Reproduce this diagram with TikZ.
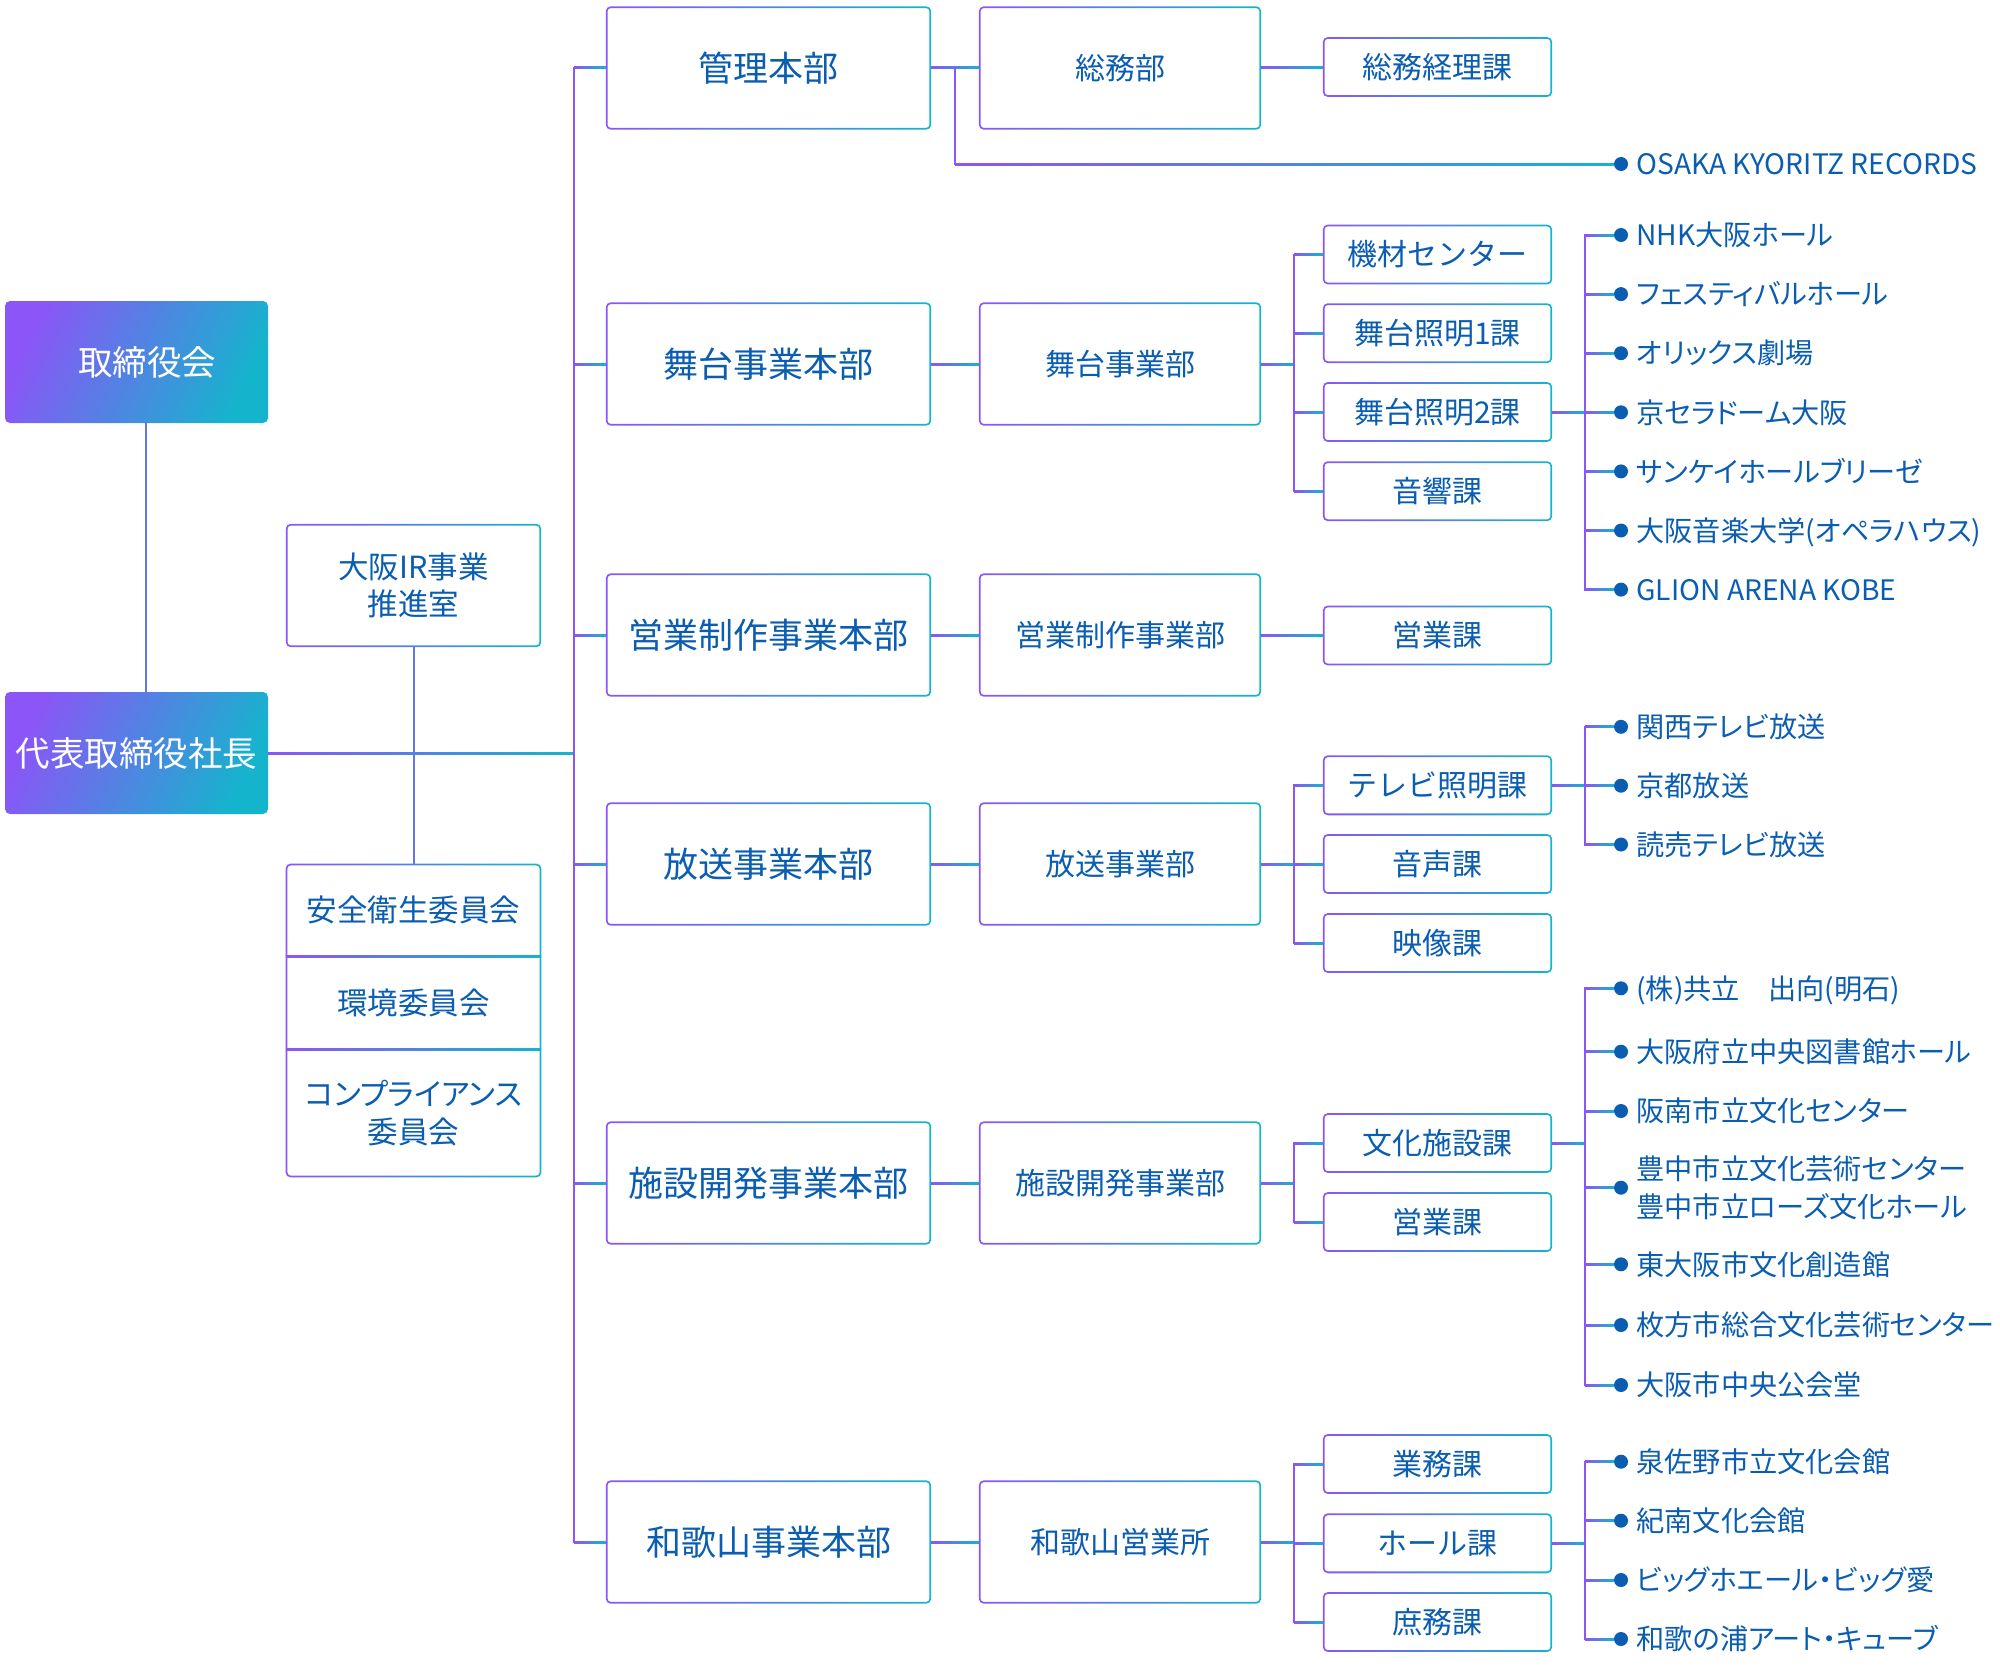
\documentclass[tikz,border=0pt]{standalone}
\usepackage{fontspec}
\setmainfont{Noto Sans CJK JP}
\newfontfamily\pfont[RawFeature=+palt]{Noto Sans CJK JP}
\usetikzlibrary{calc,fit}
\definecolor{gp}{HTML}{8B55F7}
\definecolor{gc}{HTML}{15B4CD}
\definecolor{gt}{HTML}{0A5DB0}
\newcommand\gframe[1]{%
  \shade[left color=gp,right color=gc,even odd rule,rounded corners=5pt]
    (#1.south west) rectangle (#1.north east)
    [rounded corners=3.2pt]
    ([shift={(1.8pt,1.8pt)}]#1.south west) rectangle ([shift={(-1.8pt,-1.8pt)}]#1.north east);}
\newcommand\hcon[2]{%
  \shade[left color=gp,right color=gc] ($(#1)+(0pt,-1pt)$) rectangle ($(#2)+(0pt,1pt)$);}
\tikzset{
  base/.style={text=gt, inner sep=0pt, align=center},
  honbu/.style={base, text height=30.8pt, text depth=4.2pt, minimum width=325pt, minimum height=123pt, font=\fontsize{35}{40}\selectfont},
  bubox/.style={base, text height=26.4pt, text depth=3.6pt, minimum width=282pt, minimum height=123pt, font=\fontsize{30}{36}\selectfont},
  kabox/.style={base, text height=26.4pt, text depth=3.6pt, minimum width=229pt, minimum height=59.5pt, font=\fontsize{30}{36}\selectfont},
  sidebox/.style={base, minimum width=255pt, font=\fontsize{30.5}{36.5}\selectfont},
  sideone/.style={text height=26.84pt, text depth=3.66pt},
  topbox/.style={inner sep=0pt, text height=30.36pt, text depth=4.14pt, text=white, minimum width=263pt, minimum height=122pt,
    rounded corners=5pt, font=\fontsize{34.5}{40}\selectfont, left color=gp, right color=gc, shading angle=65},
  vl/.style={draw=gp, line width=2pt, line cap=rect},
  vm/.style={draw=gp!65!gc, line width=2pt, line cap=rect},
  dot/.style={circle, fill=gt, minimum size=14pt, inner sep=0pt},
  li/.style={anchor=west, text=gt, inner sep=0pt, font=\pfont\fontsize{28.2}{37.5}\selectfont},
  lione/.style={text height=24.82pt, text depth=3.38pt},
}
\begin{document}
\begin{tikzpicture}[x=1pt,y=-1pt]
\useasboundingbox (0,0) rectangle (2000,1670);
\coordinate (T) at (574,0);
\coordinate (K) at (955,0);
\coordinate (B) at (1294,0);
\coordinate (L) at (1585,0);

% left column
\node[topbox] (tori) at (136.5,362) {\hspace*{21pt}取締役会};
\node[topbox] (daihyo) at (136.5,753) {代表取締役社長};

% side column
\node[sidebox, minimum height=123pt] (ir) at (413.5,585.5) {大阪IR事業\\推進室};
\node[sidebox, sideone, minimum height=92.4pt] (anzen) at (413.5,910.2) {安全衛生委員会};
\node[sidebox, sideone, minimum height=93.2pt] (kankyo) at (413.5,1003) {環境委員会};
\node[sidebox, minimum height=127.4pt, font=\pfont\fontsize{30.5}{37.5}\selectfont] (comp) at (413.5,1113.3) {コンプライアンス\\委員会};
\node[fit=(anzen)(comp), inner sep=0pt] (iinkai) {};

% headquarters
\node[honbu] (kanri) at (768.5,68) {管理本部};
\node[honbu] (butai) at (768.5,364) {舞台事業本部};
\node[honbu] (eisei) at (768.5,635) {営業制作事業本部};
\node[honbu] (hoso) at (768.5,864) {放送事業本部};
\node[honbu] (shisetsu) at (768.5,1183) {施設開発事業本部};
\node[honbu] (waka) at (768.5,1542) {和歌山事業本部};

% departments
\node[bubox] (somubu) at (1120,68) {総務部};
\node[bubox] (butaibu) at (1120,364) {舞台事業部};
\node[bubox] (eiseibu) at (1120,635) {営業制作事業部};
\node[bubox] (hosobu) at (1120,864) {放送事業部};
\node[bubox] (shisetsubu) at (1120,1183) {施設開発事業部};
\node[bubox] (wakabu) at (1120,1542) {和歌山営業所};

% sections
\node[kabox] (ka1) at (1437.5,67) {総務経理課};
\node[kabox] (ka2) at (1437.5,254.5) {機材センター};
\node[kabox] (ka3) at (1437.5,333.2) {舞台照明1課};
\node[kabox] (ka4) at (1437.5,412) {舞台照明2課};
\node[kabox] (ka5) at (1437.5,491.2) {音響課};
\node[kabox] (ka6) at (1437.5,635.5) {営業課};
\node[kabox] (ka7) at (1437.5,785.3) {テレビ照明課};
\node[kabox] (ka8) at (1437.5,864) {音声課};
\node[kabox] (ka9) at (1437.5,943) {映像課};
\node[kabox] (ka10) at (1437.5,1143) {文化施設課};
\node[kabox] (ka11) at (1437.5,1222) {営業課};
\node[kabox] (ka12) at (1437.5,1464) {業務課};
\node[kabox] (ka13) at (1437.5,1543.3) {ホール課};
\node[kabox] (ka14) at (1437.5,1622) {庶務課};

% list dots
\foreach \i/\y in {0/164, 1/235, 2/294.1, 3/353.2, 4/412.3, 5/471.4, 6/530.5, 7/589.6,
  8/726.8, 9/785.7, 10/844.5, 11/988.3, 12/1051.7, 13/1111, 14/1187.7, 15/1264.3, 16/1325, 17/1385,
  18/1461.7, 19/1520.7, 20/1580, 21/1639}
  {\node[dot] (d\i) at (1621,\y) {};}

% list texts
\node[li, lione] (t0) at ([xshift=8pt]d0.east) {OSAKA KYORITZ RECORDS};
\node[li, lione] (t1) at ([xshift=8pt]d1.east) {NHK大阪ホール};
\node[li, lione] (t2) at ([xshift=8pt]d2.east) {フェスティバルホール};
\node[li, lione] (t3) at ([xshift=8pt]d3.east) {オリックス劇場};
\node[li, lione] (t4) at ([xshift=8pt]d4.east) {京セラドーム大阪};
\node[li, lione] (t5) at ([xshift=8pt]d5.east) {サンケイホールブリーゼ};
\node[li, lione] (t6) at ([xshift=8pt]d6.east) {大阪音楽大学(オペラハウス)};
\node[li, lione] (t7) at ([xshift=8pt]d7.east) {GLION ARENA KOBE};
\node[li, lione] (t8) at ([xshift=8pt]d8.east) {関西テレビ放送};
\node[li, lione] (t9) at ([xshift=8pt]d9.east) {京都放送};
\node[li, lione] (t10) at ([xshift=8pt]d10.east) {読売テレビ放送};
\node[li, lione] (t11) at ([xshift=8pt]d11.east) {(株)共立　出向(明石)};
\node[li, lione] (t12) at ([xshift=8pt]d12.east) {大阪府立中央図書館ホール};
\node[li, lione] (t13) at ([xshift=8pt]d13.east) {阪南市立文化センター};
\node[li, align=left] (t14) at ([xshift=8pt]d14.east) {豊中市立文化芸術センター\\豊中市立ローズ文化ホール};
\node[li, lione] (t15) at ([xshift=8pt]d15.east) {東大阪市文化創造館};
\node[li, lione] (t16) at ([xshift=8pt]d16.east) {枚方市総合文化芸術センター};
\node[li, lione] (t17) at ([xshift=8pt]d17.east) {大阪市中央公会堂};
\node[li, lione] (t18) at ([xshift=8pt]d18.east) {泉佐野市立文化会館};
\node[li, lione] (t19) at ([xshift=8pt]d19.east) {紀南文化会館};
\node[li, lione] (t20) at ([xshift=8pt]d20.east) {ビッグホエール・ビッグ愛};
\node[li, lione] (t21) at ([xshift=8pt]d21.east) {和歌の浦アート・キューブ};

% ---- connectors ----
\draw[vm] ([xshift=9.5pt]tori.south) -- ([xshift=9.5pt]daihyo.north);
\draw[vm] (ir.south) -- (anzen.north);
\hcon{daihyo.east}{T |- daihyo.east}
\draw[vl] (T |- kanri.west) -- (T |- waka.west);
\foreach \n in {kanri,butai,eisei,hoso,shisetsu,waka} {\hcon{T |- \n.west}{\n.west}}
\foreach \a/\b in {kanri/somubu,butai/butaibu,eisei/eiseibu,hoso/hosobu,shisetsu/shisetsubu,waka/wakabu}
  {\hcon{\a.east}{\b.west}}
% kanri -> OSAKA
\draw[vl] (K |- kanri.east) -- (K |- d0);
\hcon{K |- d0}{d0.west}
% single sections
\hcon{somubu.east}{somubu.east -| ka1.west}
\hcon{eiseibu.east}{eiseibu.east -| ka6.west}
% branches
\hcon{butaibu.east}{B |- butaibu.east}
\draw[vl] (B |- ka2.west) -- (B |- ka5.west);
\foreach \k in {ka2,ka3,ka4,ka5} {\hcon{B |- \k.west}{\k.west}}
\hcon{hosobu.east}{B |- hosobu.east}
\draw[vl] (B |- ka7.west) -- (B |- ka9.west);
\foreach \k in {ka7,ka8,ka9} {\hcon{B |- \k.west}{\k.west}}
\hcon{shisetsubu.east}{B |- shisetsubu.east}
\draw[vl] (B |- ka10.west) -- (B |- ka11.west);
\foreach \k in {ka10,ka11} {\hcon{B |- \k.west}{\k.west}}
\hcon{wakabu.east}{B |- wakabu.east}
\draw[vl] (B |- ka12.west) -- (B |- ka14.west);
\foreach \k in {ka12,ka13,ka14} {\hcon{B |- \k.west}{\k.west}}
% lists
\hcon{ka4.east}{L |- ka4.east}
\draw[vl] (L |- d1) -- (L |- d7);
\foreach \d in {d1,d2,d3,d4,d5,d6,d7} {\hcon{L |- \d}{\d.west}}
\hcon{ka7.east}{L |- ka7.east}
\draw[vl] (L |- d8) -- (L |- d10);
\foreach \d in {d8,d9,d10} {\hcon{L |- \d}{\d.west}}
\hcon{ka10.east}{L |- ka10.east}
\draw[vl] (L |- d11) -- (L |- d17);
\foreach \d in {d11,d12,d13,d14,d15,d16,d17} {\hcon{L |- \d}{\d.west}}
\hcon{ka13.east}{L |- ka13.east}
\draw[vl] (L |- d18) -- (L |- d21);
\foreach \d in {d18,d19,d20,d21} {\hcon{L |- \d}{\d.west}}

% ---- frames ----
\foreach \n in {ir,iinkai,kanri,butai,eisei,hoso,shisetsu,waka,somubu,butaibu,eiseibu,hosobu,shisetsubu,wakabu,
  ka1,ka2,ka3,ka4,ka5,ka6,ka7,ka8,ka9,ka10,ka11,ka12,ka13,ka14} {\gframe{\n}}
\hcon{anzen.south west}{anzen.south east}
\hcon{kankyo.south west}{kankyo.south east}
\end{tikzpicture}
\end{document}
